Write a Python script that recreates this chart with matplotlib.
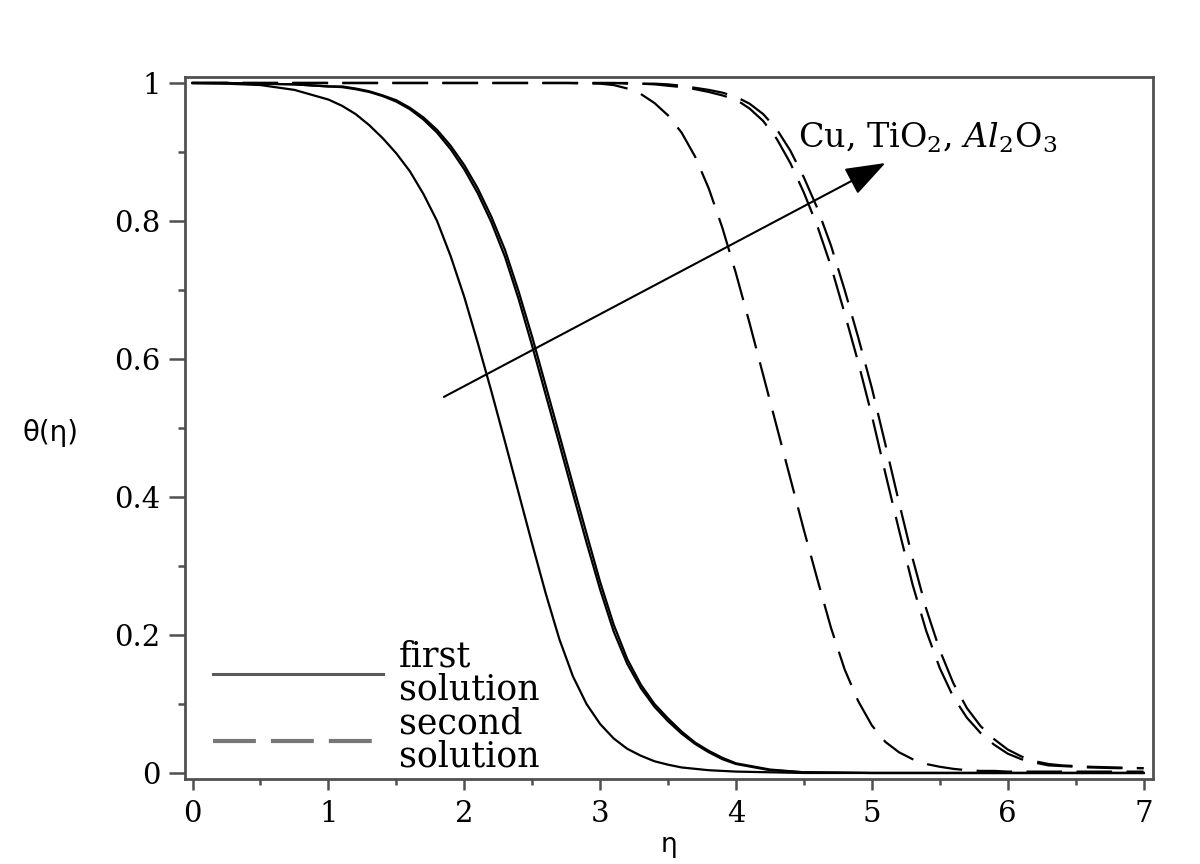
import matplotlib
matplotlib.use("Agg")
import matplotlib.pyplot as plt
from matplotlib.lines import Line2D
from matplotlib.ticker import MultipleLocator, FixedLocator, FixedFormatter

plt.rcParams['font.family'] = ['DejaVu Serif']
plt.rcParams['mathtext.fontset'] = 'dejavuserif'

# first solution (solid) - eta grid, dense through the drop
eta_first = [0.0, 0.25, 0.5, 0.75,
             1.0, 1.1, 1.2, 1.3, 1.4, 1.5, 1.6, 1.7, 1.8, 1.9,
             2.0, 2.1, 2.2, 2.3, 2.4, 2.5, 2.6, 2.7, 2.8, 2.9,
             3.0, 3.1, 3.2, 3.3, 3.4, 3.5, 3.6, 3.7, 3.8, 3.9,
             4.0, 4.25, 4.5, 5.0, 6.0, 7.0]
first_cu = [1.000, 0.999, 0.997, 0.990,
            0.976, 0.967, 0.955, 0.939, 0.920, 0.898, 0.872, 0.839, 0.800, 0.749,
            0.690, 0.623, 0.553, 0.480, 0.406, 0.332, 0.260, 0.194, 0.140, 0.100,
            0.071, 0.050, 0.035, 0.025, 0.017, 0.012, 0.008, 0.006, 0.004, 0.003,
            0.002, 0.001, 0.000, 0.000, 0.000, 0.000]
first_tio2 = [1.000, 1.000, 0.999, 0.998,
              0.995, 0.994, 0.991, 0.987, 0.981, 0.973, 0.962, 0.947, 0.928, 0.904,
              0.875, 0.840, 0.798, 0.748, 0.687, 0.619, 0.548, 0.477, 0.405, 0.334,
              0.266, 0.205, 0.158, 0.123, 0.096, 0.075, 0.057, 0.042, 0.030, 0.020,
              0.013, 0.004, 0.001, 0.000, 0.000, 0.000]
first_al2o3 = [1.000, 1.000, 0.999, 0.998,
               0.995, 0.995, 0.992, 0.988, 0.982, 0.975, 0.964, 0.950, 0.932, 0.909,
               0.881, 0.847, 0.806, 0.758, 0.698, 0.632, 0.561, 0.490, 0.418, 0.347,
               0.277, 0.215, 0.165, 0.128, 0.100, 0.079, 0.060, 0.044, 0.032, 0.022,
               0.014, 0.005, 0.001, 0.000, 0.000, 0.000]

# second solution (dashed)
eta_second = [0.0, 1.0, 2.0, 2.5, 2.75,
              3.0, 3.1, 3.2, 3.3, 3.4, 3.5, 3.6, 3.7, 3.8, 3.9,
              4.0, 4.1, 4.2, 4.3, 4.4, 4.5, 4.6, 4.7, 4.8, 4.9,
              5.0, 5.1, 5.2, 5.3, 5.4, 5.5, 5.6, 5.7, 5.8, 5.9,
              6.0, 6.1, 6.2, 6.3, 6.4, 6.6, 6.8, 7.0]
second_cu = [1.000, 1.000, 1.000, 1.000, 1.000,
             0.999, 0.997, 0.992, 0.984, 0.971, 0.953, 0.928, 0.893, 0.847, 0.790,
             0.724, 0.652, 0.577, 0.502, 0.427, 0.352, 0.280, 0.210, 0.150, 0.104,
             0.069, 0.045, 0.030, 0.020, 0.013, 0.009, 0.006, 0.004, 0.003, 0.003,
             0.002, 0.002, 0.002, 0.002, 0.002, 0.002, 0.002, 0.002]
second_tio2 = [1.000, 1.000, 1.000, 1.000, 1.000,
               1.000, 1.000, 0.999, 0.999, 0.998, 0.996, 0.994, 0.991, 0.987, 0.982,
               0.976, 0.963, 0.945, 0.919, 0.884, 0.841, 0.792, 0.734, 0.666, 0.595,
               0.518, 0.434, 0.352, 0.273, 0.206, 0.152, 0.110, 0.080, 0.058, 0.041,
               0.028, 0.020, 0.015, 0.011, 0.010, 0.008, 0.007, 0.007]
second_al2o3 = [1.000, 1.000, 1.000, 1.000, 1.000,
                1.000, 1.000, 1.000, 0.999, 0.999, 0.998, 0.996, 0.993, 0.990, 0.986,
                0.980, 0.970, 0.955, 0.933, 0.902, 0.863, 0.818, 0.764, 0.700, 0.631,
                0.558, 0.476, 0.392, 0.311, 0.238, 0.178, 0.130, 0.094, 0.068, 0.049,
                0.034, 0.024, 0.017, 0.013, 0.011, 0.009, 0.008, 0.007]

x_ticks = [0, 1, 2, 3, 4, 5, 6, 7]
y_ticks = [0, 0.2, 0.4, 0.6, 0.8, 1.0]
y_tick_labels = ['0', '0.2', '0.4', '0.6', '0.8', '1']

arrow_start = (1.85, 0.545)
arrow_end = (5.10, 0.884)

fig = plt.figure(figsize=(12, 8.64), dpi=100)
ax = fig.add_axes([0.1542, 0.0984, 0.8067, 0.8125])

dash = (16, 6.5)
for y in (first_cu, first_tio2, first_al2o3):
    ax.plot(eta_first, y, color='black', lw=1.6)
for y in (second_cu, second_tio2, second_al2o3):
    ax.plot(eta_second, y, color='black', lw=1.6, dashes=dash)

ax.set_xlim(-0.055, 7.07)
ax.set_ylim(-0.0087, 1.0087)

ax.xaxis.set_major_locator(FixedLocator(x_ticks))
ax.xaxis.set_minor_locator(MultipleLocator(0.5))
ax.yaxis.set_major_locator(FixedLocator(y_ticks))
ax.yaxis.set_major_formatter(FixedFormatter(y_tick_labels))
ax.yaxis.set_minor_locator(MultipleLocator(0.1))

spine_col = '#505050'
for s in ax.spines.values():
    s.set_color(spine_col)
    s.set_linewidth(2.0)
ax.tick_params(axis='both', which='both', direction='out', colors=spine_col,
               width=1.8, labelcolor='black', labelsize=21)
ax.tick_params(axis='x', which='major', length=8, pad=7)
ax.tick_params(axis='x', which='minor', length=4.5)
ax.tick_params(axis='y', which='major', length=11.5, pad=6)
ax.tick_params(axis='y', which='minor', length=5)

ax.set_xlabel('η', family='DejaVu Sans', fontsize=19, va='center')
ax.xaxis.set_label_coords(0.5, -0.094)
ax.set_ylabel('θ(η)', family='DejaVu Sans', fontsize=20, rotation=0,
              ha='center', va='center')
ax.yaxis.set_label_coords(-0.139, 0.493)

# arrow and label for nanofluid order
ax.annotate('', xy=arrow_end, xytext=arrow_start,
            arrowprops=dict(arrowstyle='-|>,head_length=1.25,head_width=0.45',
                            color='black', lw=1.5, shrinkA=0, shrinkB=0,
                            mutation_scale=20))
ax.text(4.46, 0.907, r'Cu, TiO$_2$, $Al_2$O$_3$', fontsize=24,
        ha='left', va='baseline')

handles = [Line2D([], [], color='#5a5a5a', lw=2.2),
           Line2D([], [], color='#777777', lw=3.0, dashes=(10.3, 3.6))]
leg = ax.legend(handles, ['first\nsolution', 'second\nsolution'],
                loc='lower left', bbox_to_anchor=(0.029, 0.008), frameon=False,
                fontsize=25, handlelength=4.9, handletextpad=0.45,
                labelspacing=0.02, borderpad=0, borderaxespad=0)
for t in leg.get_texts():
    t.set_linespacing(0.95)

fig.savefig('out.png', dpi=100, facecolor='white')
